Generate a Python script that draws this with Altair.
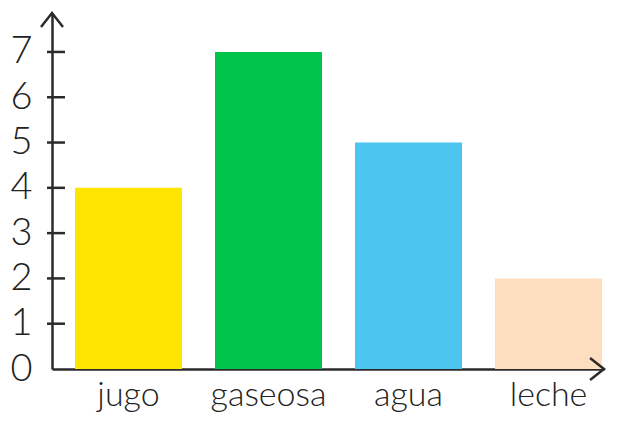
import altair as alt
import pandas as pd

categories = ["jugo", "gaseosa", "agua", "leche"]
values = [4, 7, 5, 2]
colors = ["#FFE400", "#00C44B", "#4CC6F1", "#FDDFBF"]
tick_values = [0, 1, 2, 3, 4, 5, 6, 7]

bars_df = pd.DataFrame({"bebida": categories, "cantidad": values})
ticks_df = pd.DataFrame({"v": tick_values[1:]})
arrow_df = pd.DataFrame({"a": [0]})

W, H = 552, 356
AX = "#2b2b2b"
FONT = "Lato"

xscale = alt.Scale(domain=categories, paddingInner=0.2357, paddingOuter=0.0893, align=0.92)
yscale = alt.Scale(domain=[0, 7.86], nice=False, zero=True)

bars = alt.Chart(bars_df).mark_bar().encode(
    x=alt.X("bebida:N", scale=xscale, sort=categories,
            axis=alt.Axis(title=None, labelAngle=0, ticks=False, labelPadding=9,
                          labelFontSize=34, labelFont=FONT, labelFontWeight=300,
                          labelColor="#222",
                          domainColor=AX, domainWidth=2.5)),
    y=alt.Y("cantidad:Q", scale=yscale,
            axis=alt.Axis(title=None, values=tick_values, ticks=False, grid=False,
                          labelPadding=20, labelFontSize=38, labelFont=FONT,
                          labelFontWeight=300,
                          labelColor="#222", labelFlush=False,
                          domainColor=AX, domainWidth=2.5)),
    color=alt.Color("bebida:N", scale=alt.Scale(domain=categories, range=colors), legend=None),
)

ticks = alt.Chart(ticks_df).mark_rule(color=AX, strokeWidth=2.5).encode(
    y=alt.Y("v:Q", scale=yscale),
    x=alt.value(-5),
    x2=alt.value(13),
)

up_arrow = alt.Chart(arrow_df).mark_point(
    shape="M-1,1.27L0,0L1,1.27", size=484, filled=False, stroke=AX, strokeWidth=2.5, opacity=1
).encode(x=alt.value(0), y=alt.value(0))

right_arrow = alt.Chart(arrow_df).mark_point(
    shape="M-1.27,-1L0,0L-1.27,1", size=484, filled=False, stroke=AX, strokeWidth=2.5, opacity=1
).encode(x=alt.value(W), y=alt.value(H))

chart = alt.layer(bars, ticks, up_arrow, right_arrow).properties(
    width=W, height=H,
    autosize=alt.AutoSizeParams(type="none"),
    padding={"left": 44, "top": 5, "right": 5, "bottom": 48},
).configure_view(stroke=None)

chart.save("out.html", embed_options={"renderer": "svg", "actions": False})
